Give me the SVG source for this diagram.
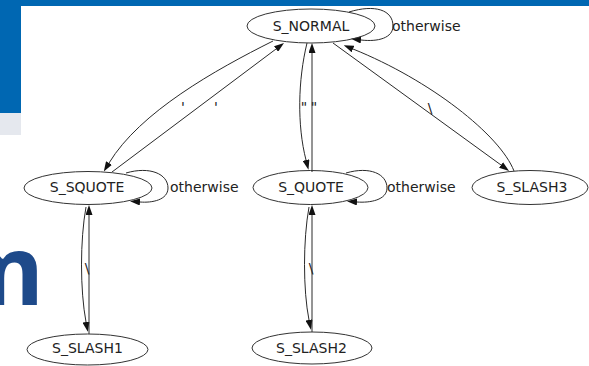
<svg xmlns="http://www.w3.org/2000/svg" width="589" height="366" viewBox="0 0 589 366">
<style>
.node ellipse{fill:none;stroke:#333;stroke-width:1}
.node text{font-family:"DejaVu Sans",sans-serif;font-size:14px;fill:#222;text-anchor:middle}
.edge path{fill:none;stroke:#2a2a2a;stroke-width:1}
.lbl{font-family:"DejaVu Sans",sans-serif;font-size:14px;fill:#222}
.ctr{text-anchor:middle}
</style>
<defs>
<marker id="ah" viewBox="0 0 10 7" refX="0" refY="3.5" markerWidth="10" markerHeight="7" markerUnits="userSpaceOnUse" orient="auto">
<path d="M0,0 L10,3.5 L0,7 z" fill="#111"/>
</marker>
</defs>
<rect width="589" height="366" fill="#fff"/>
<g id="background">
<rect x="0" y="0" width="589" height="6" fill="#0067b2"/>
<rect x="0" y="0" width="21" height="113" fill="#0067b2"/>
<rect x="0" y="113" width="21" height="22" fill="#e5e8ee"/>
<text x="44" y="305" font-family="'Open Sans',sans-serif" font-weight="bold" font-size="96" fill="#1e4a8a" text-anchor="end">m</text>
</g>
<g id="connectors" class="edge">
<path d="M273,41 C215,70 140,112 109,163" marker-end="url(#ah)"/>
<path d="M112,172 L276,49" marker-end="url(#ah)"/>
<path d="M307,43 C298,80 297,125 306,160" marker-end="url(#ah)"/>
<path d="M312,172 L312,53" marker-end="url(#ah)"/>
<path d="M333,43 L501,165" marker-end="url(#ah)"/>
<path d="M514,171 C500,135 430,80 353,49" marker-end="url(#ah)"/>
<path d="M86,207 C80,240 80,290 86,322" marker-end="url(#ah)"/>
<path d="M89,334 L89,215" marker-end="url(#ah)"/>
<path d="M309,207 C303,240 303,290 309,320" marker-end="url(#ah)"/>
<path d="M312,332 L312,215" marker-end="url(#ah)"/>
<path d="M349,12 C375,4 393,10 393,26 C393,38 378,42 361,40" marker-end="url(#ah)"/>
<path d="M126,173 C150,166 168,174 168,188 C168,200 152,203 140,202" marker-end="url(#ah)"/>
<path d="M346,173 C370,166 387,174 387,188 C387,200 370,203 357,202" marker-end="url(#ah)"/>
<text class="lbl ctr" x="183" y="112">'</text>
<text class="lbl ctr" x="216" y="112">'</text>
<text class="lbl ctr" x="304" y="112">"</text>
<text class="lbl ctr" x="314" y="112">"</text>
<text class="lbl ctr" x="430" y="113">\</text>
<text class="lbl ctr" x="87" y="273">\</text>
<text class="lbl ctr" x="311" y="273">\</text>
<text class="lbl" x="392" y="31">otherwise</text>
<text class="lbl" x="170" y="192">otherwise</text>
<text class="lbl" x="387" y="192">otherwise</text>
</g>
<g id="S_NORMAL" class="node"><ellipse cx="311" cy="26" rx="64" ry="17"/><text x="311" y="31">S_NORMAL</text></g>
<g id="S_SQUOTE" class="node"><ellipse cx="88" cy="188" rx="64" ry="16.5"/><text x="87" y="192">S_SQUOTE</text></g>
<g id="S_QUOTE" class="node"><ellipse cx="310.5" cy="187.5" rx="57.5" ry="17"/><text x="311" y="192">S_QUOTE</text></g>
<g id="S_SLASH3" class="node"><ellipse cx="530" cy="187.5" rx="58" ry="17"/><text x="532" y="192">S_SLASH3</text></g>
<g id="S_SLASH1" class="node"><ellipse cx="87.5" cy="349.5" rx="60.5" ry="15.5"/><text x="87.5" y="353">S_SLASH1</text></g>
<g id="S_SLASH2" class="node"><ellipse cx="312" cy="348" rx="60" ry="16"/><text x="311.5" y="353">S_SLASH2</text></g>
</svg>
